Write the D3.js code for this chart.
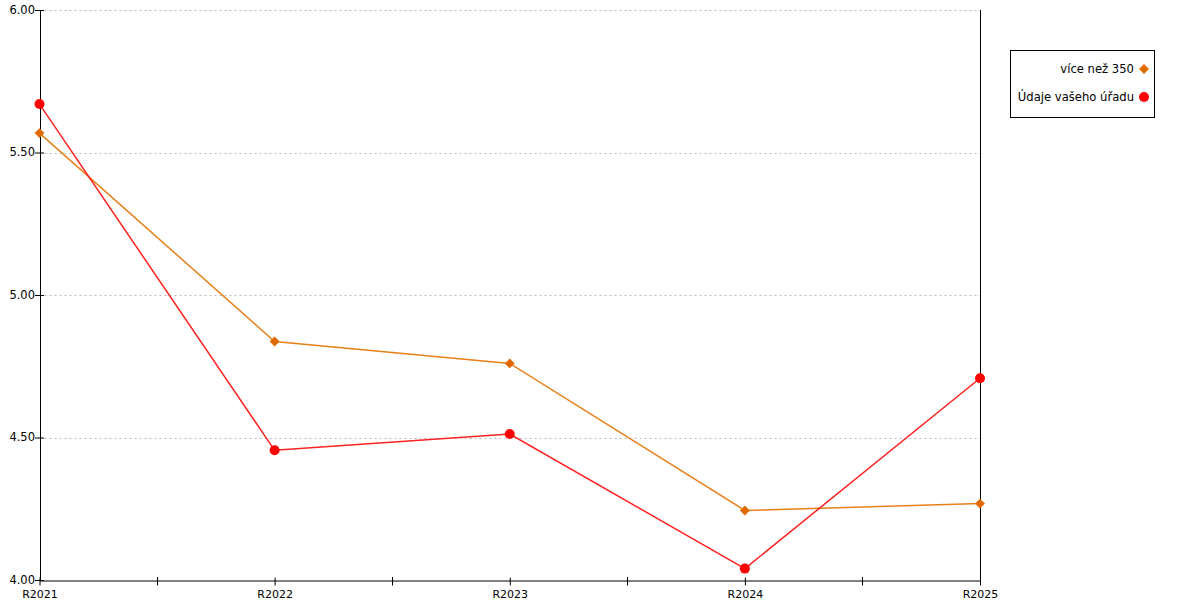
<!DOCTYPE html>
<html>
<head>
<meta charset="utf-8">
<title>chart</title>
<style>
body {margin:0;background:#fff;}
svg text {font-family:"DejaVu Sans", Verdana, sans-serif;}
</style>
</head>
<body>
<svg id="chart" width="1200" height="600"></svg>
<script src="https://cdn.jsdelivr.net/npm/d3@7"></script>
<script>
var categories = ["R2021", "R2022", "R2023", "R2024", "R2025"];
var vice350 = [5.568, 4.837, 4.760, 4.244, 4.268];
var vasUrad = [5.670, 4.455, 4.512, 4.040, 4.708];
var yTicks = [4.00, 4.50, 5.00, 5.50, 6.00];
var seriesNames = ["více než 350", "Údaje vašeho úřadu"];

var svg = d3.select("#chart");
var plotLeft = 39.5, plotRight = 980, plotTop = 10, plotBottom = 580;

var x = d3.scalePoint().domain(categories).range([plotLeft, plotRight]);
var y = d3.scaleLinear().domain([4, 6]).range([plotBottom, plotTop]);

// grid
svg.append("g").selectAll("line").data(yTicks.slice(1)).enter().append("line")
    .attr("x1", plotLeft).attr("x2", plotRight)
    .attr("y1", function(d){return Math.round(y(d)) + 0.5}).attr("y2", function(d){return Math.round(y(d)) + 0.5})
    .attr("stroke", "#bbb").attr("stroke-dasharray", "2,3");

// y axis (ticks cross the axis line)
var yAxis = svg.append("g").attr("transform", "translate(" + Math.round(plotLeft) + ",0)")
    .call(d3.axisLeft(y).tickValues(yTicks).tickFormat(d3.format(".2f")).tickSize(5).tickSizeOuter(0));
yAxis.select(".domain").attr("stroke", "#000");
yAxis.selectAll(".tick line").attr("x1", 4).attr("stroke", "#000");
yAxis.selectAll("text").attr("font-size", 11.5).attr("fill", "#000").attr("dx", "3").attr("dy", "0.3em");

// x axis
var xAxis = svg.append("g").attr("transform", "translate(0," + (plotBottom + 0.5) + ")")
    .call(d3.axisBottom(x).tickSize(5).tickSizeOuter(0));
xAxis.select(".domain").attr("stroke", "#000");
xAxis.selectAll(".tick line").attr("y1", -3).attr("stroke", "#000");
xAxis.selectAll("text").attr("font-size", 11).attr("fill", "#000").attr("dy", "0.85em");

// minor ticks between categories
var mids = [];
for (var i = 0; i < categories.length - 1; i++) mids.push((x(categories[i]) + x(categories[i + 1])) / 2);
svg.append("g").selectAll("line").data(mids).enter().append("line")
    .attr("x1", function(d){return Math.round(d) + 0.5}).attr("x2", function(d){return Math.round(d) + 0.5})
    .attr("y1", plotBottom - 3).attr("y2", plotBottom + 5.5).attr("stroke", "#000");

// right border
svg.append("line").attr("x1", plotRight + 0.5).attr("x2", plotRight + 0.5).attr("y1", plotTop).attr("y2", plotBottom)
    .attr("stroke", "#000");

var line = d3.line().x(function(d, i){return x(categories[i])}).y(function(d){return y(d)});

svg.append("path").datum(vice350).attr("d", line).attr("fill", "none")
    .attr("stroke", "#e8801a").attr("stroke-width", 1.5);
svg.append("path").datum(vasUrad).attr("d", line).attr("fill", "none")
    .attr("stroke", "#ff2020").attr("stroke-width", 1.5);

var diamond = d3.symbol().type(d3.symbolDiamond2).size(62);
svg.append("g").selectAll("path").data(vice350).enter().append("path")
    .attr("d", diamond)
    .attr("transform", function(d, i){return "translate(" + x(categories[i]) + "," + y(d) + ")"})
    .attr("fill", "#e06a00");
svg.append("g").selectAll("circle").data(vasUrad).enter().append("circle")
    .attr("cx", function(d, i){return x(categories[i])}).attr("cy", function(d){return y(d)})
    .attr("r", 5).attr("fill", "#ff0000");

// legend
var lg = svg.append("g");
lg.append("rect").attr("x", 1010.5).attr("y", 50.5).attr("width", 144).attr("height", 67)
    .attr("fill", "#fff").attr("stroke", "#000");
lg.selectAll("text").data(seriesNames).enter().append("text")
    .attr("x", 1134).attr("y", function(d, i){return 73 + i * 28})
    .attr("text-anchor", "end").attr("font-size", 11.6).attr("fill", "#000")
    .text(function(d){return d});
lg.append("path").attr("d", diamond).attr("transform", "translate(1144,69)").attr("fill", "#e06a00");
lg.append("circle").attr("cx", 1144).attr("cy", 97).attr("r", 5).attr("fill", "#ff0000");
</script>
</body>
</html>
